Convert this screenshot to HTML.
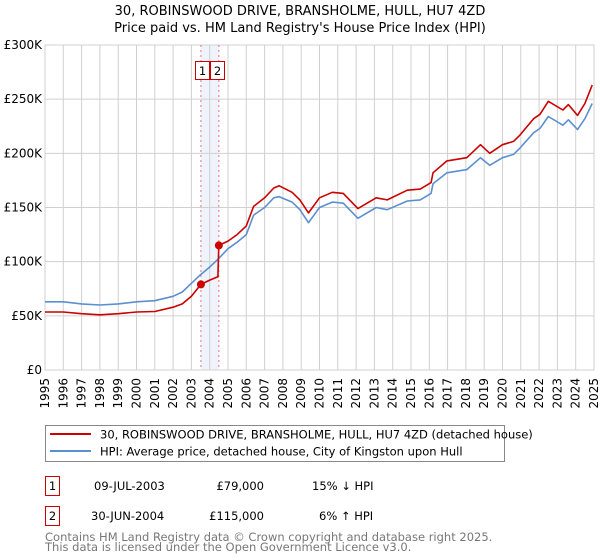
<!DOCTYPE html>
<html><head><meta charset="utf-8"><style>
body{margin:0;background:#fff;}
svg{display:block;font-family:"DejaVu Sans","Liberation Sans",sans-serif;}
</style></head><body>
<svg id="chart" width="600" height="560" viewBox="0 0 600 560">
<text x="300" y="15" text-anchor="middle" font-size="13">30, ROBINSWOOD DRIVE, BRANSHOLME, HULL, HU7 4ZD</text>
<text x="300" y="32" text-anchor="middle" font-size="13">Price paid vs. HM Land Registry's House Price Index (HPI)</text>
<g id="plot"></g>
<g>
<rect x="45.5" y="425.5" width="459" height="36" fill="#fff" stroke="#888"/>
<line x1="50" y1="434" x2="91" y2="434" stroke="#cc0000" stroke-width="2"/>
<text x="100" y="438.5" font-size="11.5">30, ROBINSWOOD DRIVE, BRANSHOLME, HULL, HU7 4ZD (detached house)</text>
<line x1="50" y1="451" x2="91" y2="451" stroke="#5b8fd0" stroke-width="2"/>
<text x="100" y="455.5" font-size="11.5">HPI: Average price, detached house, City of Kingston upon Hull</text>
</g>
<g font-size="11.5">
<rect x="45.5" y="476.5" width="14" height="19" fill="#fff" stroke="#cc0000"/>
<text x="52.5" y="490" text-anchor="middle">1</text>
<text x="94" y="490">09-JUL-2003</text>
<text x="264" y="490" text-anchor="end">£79,000</text>
<text x="312" y="490">15% ↓ HPI</text>
<rect x="45.5" y="506.5" width="14" height="19" fill="#fff" stroke="#cc0000"/>
<text x="52.5" y="520" text-anchor="middle">2</text>
<text x="91" y="520">30-JUN-2004</text>
<text x="264" y="520" text-anchor="end">£115,000</text>
<text x="319" y="520">6% ↑ HPI</text>
</g>
<text x="45" y="541" font-size="11.5" fill="#777">Contains HM Land Registry data © Crown copyright and database right 2025.</text>
<text x="45" y="551" font-size="11.5" fill="#777">This data is licensed under the Open Government Licence v3.0.</text>
</svg>
<script>
const hpiDates=[1995,1996,1997,1998,1999,2000,2001,2002,2002.5,2003,2003.5,2004,2004.5,2005,2005.5,2006,2006.4,2007,2007.5,2007.8,2008.5,2008.93,2009.4,2010,2010.7,2011.3,2012.1,2013.1,2013.7,2014.8,2015.5,2016.1,2016.2,2016.96,2018.05,2018.8,2019.3,2020,2020.6,2020.96,2021.7,2022.05,2022.5,2023.3,2023.6,2024.1,2024.5,2024.9];
const hpiValues=[63,63,61,60,61,63,64,68,72,80,88,95,103,112,118,125,143,150,159,160,155,148,136,150,155,154,140,150,148,156,157,163,172,182,185,196,189,196,199,205,219,223,234,226,231,222,232,246];
const redDates=[1995,1996,1997,1998,1999,2000,2001,2002,2002.5,2003,2003.52,2004,2004.45,2004.5,2005,2005.5,2006,2006.4,2007,2007.5,2007.8,2008.5,2008.93,2009.4,2010,2010.7,2011.3,2012.1,2013.1,2013.7,2014.8,2015.5,2016.1,2016.2,2016.96,2018.05,2018.8,2019.3,2020,2020.6,2020.96,2021.7,2022.05,2022.5,2023.3,2023.6,2024.1,2024.5,2024.9];
const redValues=[53.5,53.5,52,51,52,53.5,54,58,61,68,79,83,86,115,119,125,133,151,159,168,170,164,157,145,159,164,163,149,159,157,166,167,173,182,193,196,208,200,208,211,217,232,236,248,240,245,235,246,263];
const saleDates=[2003.52,2004.5];
const salePrices=[79,115];
const saleLabels=["1","2"];
const yTicks=[0,50,100,150,200,250,300];
const yTickLabels=["£0","£50K","£100K","£150K","£200K","£250K","£300K"];
const xTicks=[1995,1996,1997,1998,1999,2000,2001,2002,2003,2004,2005,2006,2007,2008,2009,2010,2011,2012,2013,2014,2015,2016,2017,2018,2019,2020,2021,2022,2023,2024,2025];

const X0=45,X1=594,Y0=370,Y1=45;
const xs=d=>X0+(d-1995)/30*(X1-X0);
const ys=v=>Y0-v/300*(Y0-Y1);
const NS="http://www.w3.org/2000/svg";
const g=document.getElementById('plot');
function mk(t,a){const e=document.createElementNS(NS,t);for(const k in a)e.setAttribute(k,a[k]);g.appendChild(e);return e;}

let r=mk('rect',{x:X0,y:Y1,width:X1-X0,height:Y0-Y1,fill:'#fff'});


let sh=mk('rect',{x:xs(saleDates[0]),y:Y1,width:xs(saleDates[1])-xs(saleDates[0]),height:Y0-Y1,fill:'#eef3fc'});


xTicks.forEach(t=>{
 let l=mk('line',{x1:xs(t),x2:xs(t),y1:Y1,y2:Y0,stroke:'#d0d0d0'});
 
 
 let tx=mk('text',{x:0,y:0,'font-size':'12','text-anchor':'end',transform:`translate(${xs(t)+4},${Y0+8}) rotate(-90)`});
 tx.textContent=t;
 
 
});
yTicks.forEach((t,i)=>{
 let l=mk('line',{x1:X0,x2:X1,y1:ys(t),y2:ys(t),stroke:'#d0d0d0'});
 
 
 let tx=mk('text',{x:X0-3,y:ys(t)+4,'font-size':'12','text-anchor':'end'});
 tx.textContent=yTickLabels[i];
 
 
});
let bd=mk('rect',{x:X0,y:Y1,width:X1-X0,height:Y0-Y1,fill:'none',stroke:'#d0d0d0'});


saleDates.forEach((d,i)=>{
 let l=mk('line',{x1:xs(d),x2:xs(d),y1:Y1,y2:Y0,stroke:'#f07070','stroke-dasharray':'2,3'});
 
 
});
function path(dates,vals,col,name){
 let p=mk('path',{d:dates.map((d,i)=>(i?'L':'M')+xs(d).toFixed(1)+','+ys(vals[i]).toFixed(1)).join(''),fill:'none',stroke:col,'stroke-width':'1.6','stroke-linejoin':'round'});
 
 
}
path(hpiDates,hpiValues,'#5b8fd0','hpi-line');
path(redDates,redValues,'#cc0000','property-price-line');
const mid=(xs(saleDates[0])+xs(saleDates[1]))/2;
saleDates.forEach((d,i)=>{
 let c=mk('circle',{cx:xs(d),cy:ys(salePrices[i]),r:4,fill:'#cc0000'});
 
 
 let bx=mid+(i===0?-8:7.5);
 let b=mk('rect',{x:Math.round(bx-7)+0.5,y:61.5,width:14,height:18,fill:'#fff',stroke:'#cc0000'});
 
 
 let t=mk('text',{x:Math.round(bx)+0.5,y:75,'font-size':'11.5','text-anchor':'middle'});
 t.textContent=saleLabels[i];
 
 
});
</script>
</body></html>
